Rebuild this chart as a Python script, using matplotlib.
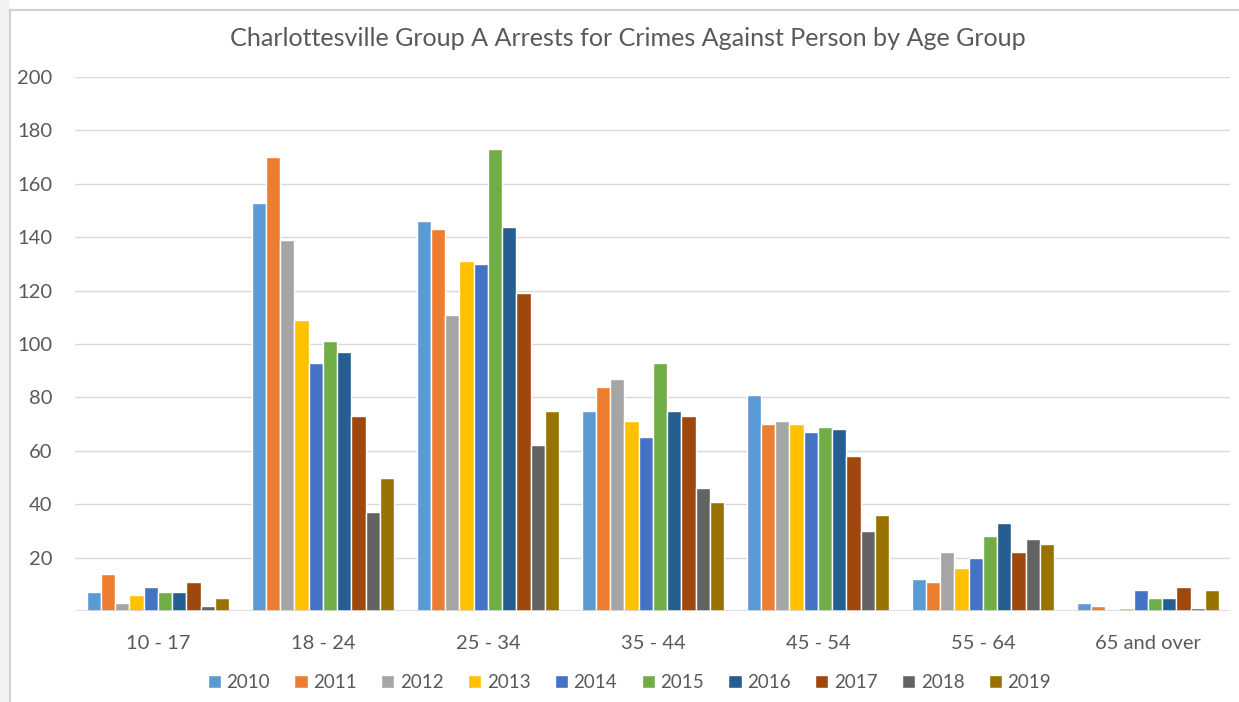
import matplotlib
matplotlib.use('Agg')
from matplotlib import pyplot as plt
from matplotlib.lines import Line2D
from matplotlib.patches import Rectangle
import numpy as np

plt.rcParams['font.family'] = ['Lato', 'DejaVu Sans']

# data
age_groups = ['10 - 17', '18 - 24', '25 - 34', '35 - 44', '45 - 54', '55 - 64', '65 and over']
years = ['2010', '2011', '2012', '2013', '2014', '2015', '2016', '2017', '2018', '2019']
y2010 = [7, 153, 146, 75, 81, 12, 3]
y2011 = [14, 170, 143, 84, 70, 11, 2]
y2012 = [3, 139, 111, 87, 71, 22, 0]
y2013 = [6, 109, 131, 71, 70, 16, 1]
y2014 = [9, 93, 130, 65, 67, 20, 8]
y2015 = [7, 101, 173, 93, 69, 28, 5]
y2016 = [7, 97, 144, 75, 68, 33, 5]
y2017 = [11, 73, 119, 73, 58, 22, 9]
y2018 = [2, 37, 62, 46, 30, 27, 1]
y2019 = [5, 50, 75, 41, 36, 25, 8]
series = [y2010, y2011, y2012, y2013, y2014, y2015, y2016, y2017, y2018, y2019]

colors = ['#5B9BD5', '#ED7D31', '#A5A5A5', '#FFC000', '#4472C4',
          '#70AD47', '#255E91', '#9E480E', '#636363', '#997300']
text_color = '#595959'

fig = plt.figure(figsize=(12.39, 7.02), dpi=100)
ax = fig.add_axes([0.0609, 0.1296, 0.9322, 0.7607])

x = np.arange(len(age_groups))
slot = 0.0865
for i, vals in enumerate(series):
    offs = (i - 4.5) * slot
    ax.bar(x + offs, vals, width=slot, color=colors[i], edgecolor='white',
           linewidth=1.0, label=years[i], zorder=3)

ax.set_xlim(-0.5, len(age_groups) - 0.5)
ax.set_ylim(0, 200)
ax.set_yticks(np.arange(20, 201, 20))
ax.yaxis.grid(True, color='#D9D9D9', linewidth=1.0, zorder=0)
ax.axhline(0, color='#D9D9D9', linewidth=1.2, zorder=4)
ax.set_xticks(x)
ax.set_xticklabels(age_groups)
ax.tick_params(axis='both', length=0, labelsize=14.5, colors=text_color)
ax.tick_params(axis='x', pad=17)
ax.tick_params(axis='y', pad=16.5)
for s in ax.spines.values():
    s.set_visible(False)

fig.text(0.507, 0.945, 'Charlottesville Group A Arrests for Crimes Against Person by Age Group',
         ha='center', va='center', fontsize=18.1, color=text_color)

fig.legend(loc='center', bbox_to_anchor=(0.508, 0.028), ncol=10, frameon=False,
           fontsize=13.5, labelcolor=text_color, handlelength=0.7, handleheight=0.7,
           handletextpad=0.3, columnspacing=1.3)

# chart border on the left and top
fig.add_artist(Rectangle((0, 0), 9 / 1239, 1, transform=fig.transFigure,
                         color='#F2F2F2', lw=0))
fig.add_artist(Line2D([9.5 / 1239, 9.5 / 1239], [0, 1 - 9.5 / 702],
                      transform=fig.transFigure, color='#D0D0D0', lw=1.5))
fig.add_artist(Line2D([9.5 / 1239, 1], [1 - 9.5 / 702, 1 - 9.5 / 702],
                      transform=fig.transFigure, color='#D0D0D0', lw=1.5))

fig.savefig('out.png', dpi=100)
